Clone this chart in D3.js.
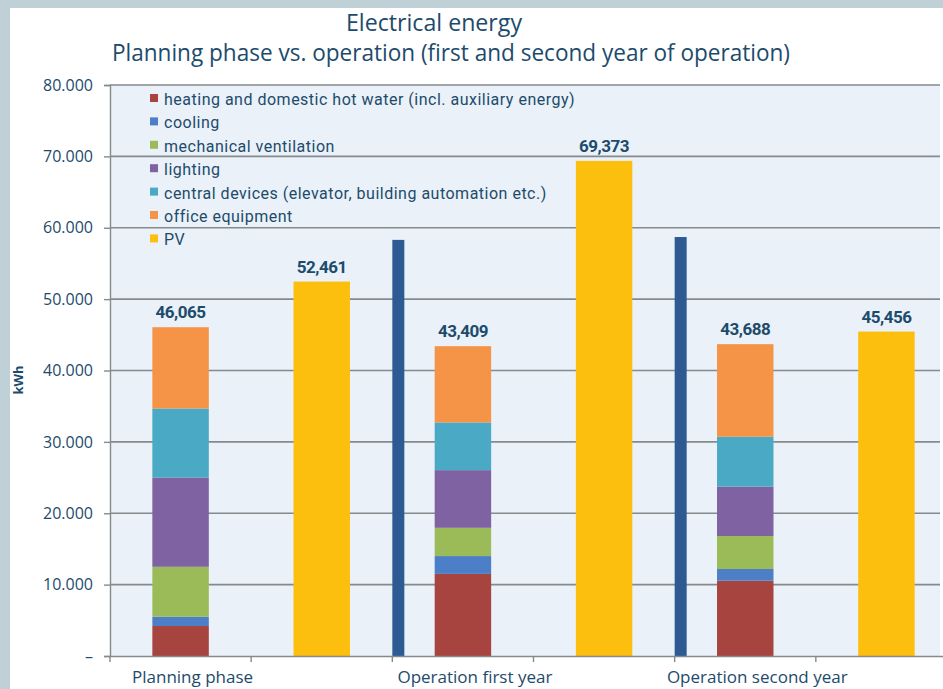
<!DOCTYPE html>
<html>
<head>
<meta charset="utf-8">
<script src="https://cdn.jsdelivr.net/npm/d3@7"></script>
<style>
  body { margin: 0; background: #ffffff; }
  svg { display: block; }
</style>
</head>
<body>
<svg width="943" height="689"></svg>
<script>
// columns on the x axis (two per phase: consumption stack and PV yield)
const bands = ["Planning phase", "Planning PV", "Operation first year", "First year PV", "Operation second year", "Second year PV"];
const bandLabels = ["Planning phase", "", "Operation first year", "", "Operation second year", ""];

// stacked consumption, kWh
const stackBands = ["Planning phase", "Operation first year", "Operation second year"];
const heating     = [4200, 11500, 10550];
const cooling     = [1300, 2500, 1640];
const ventilation = [7000, 3960, 4620];
const lighting    = [12500, 8080, 6910];
const central     = [9670, 6680, 7000];
const office      = [11395, 10689, 12968];
const totals      = [46065, 43409, 43688];

// PV yield, kWh
const pvBands = ["Planning PV", "First year PV", "Second year PV"];
const pv = [52461, 69373, 45456];

// dark separators between the phases
const sepBands = ["Operation first year", "Operation second year"];
const separators = [58300, 58700];

const yTicks = [0, 10000, 20000, 30000, 40000, 50000, 60000, 70000, 80000];

const seriesNames = [
  "heating and domestic hot water (incl. auxiliary energy)",
  "cooling",
  "mechanical ventilation",
  "lighting",
  "central devices (elevator, building automation etc.)",
  "office equipment",
  "PV"
];
const colors = ["#a8443f", "#4d7fc8", "#9bbb59", "#7f62a1", "#4aaac6", "#f59447", "#fdbf0e"];

const svg = d3.select("svg");
const textColor = "#1d4b6c";

// frame strips
svg.append("rect").attr("x", 0).attr("y", 0).attr("width", 943).attr("height", 8).attr("fill", "#bfd1d7");
svg.append("rect").attr("x", 0).attr("y", 0).attr("width", 10).attr("height", 689).attr("fill", "#bfd1d7");

const area = { left: 110, right: 940, top: 85, bottom: 656 };

const scX = d3.scaleBand().domain(bands).range([area.left, 957]);
const scY = d3.scaleLinear().domain([0, 80000]).range([area.bottom, area.top]);
const barW = scX.bandwidth() * 0.4;

// plot background
svg.append("rect")
  .attr("x", area.left).attr("y", area.top)
  .attr("width", area.right - area.left).attr("height", area.bottom - area.top)
  .attr("fill", "#eaf1f8");

// title
svg.append("text").attr("x", 346).attr("y", 31)
  .attr("textLength", 176).attr("lengthAdjust", "spacingAndGlyphs")
  .style("font-family", "Open Sans").style("font-size", "23px").attr("fill", textColor)
  .text("Electrical energy");
svg.append("text").attr("x", 112).attr("y", 61)
  .attr("textLength", 678).attr("lengthAdjust", "spacingAndGlyphs")
  .style("font-family", "Open Sans").style("font-size", "23px").attr("fill", textColor)
  .text("Planning phase vs. operation (first and second year of operation)");

// gridlines
svg.append("g")
  .selectAll("line")
  .data(yTicks.filter(d => d > 0))
  .join("line")
  .attr("x1", area.left).attr("x2", area.right)
  .attr("y1", d => scY(d)).attr("y2", d => scY(d))
  .attr("stroke", "#858a8c").attr("stroke-width", 1.6);

// y axis
const axisY = d3.axisLeft(scY)
  .tickValues(yTicks)
  .tickSize(6)
  .tickFormat(d => d === 0 ? "–" : d3.format(",")(d).replace(/,/g, "."));
const gy = svg.append("g").attr("transform", `translate(${area.left},0)`).call(axisY);
gy.select(".domain").attr("stroke", "#858a8c").attr("stroke-width", 1.4);
gy.selectAll(".tick line").attr("stroke", "#858a8c").attr("stroke-width", 1.4);
gy.selectAll(".tick text")
  .attr("x", -17)
  .style("font-family", "Open Sans").style("font-size", "16px").attr("fill", textColor);

// y axis title
svg.append("text")
  .attr("transform", "translate(23,380) rotate(-90)")
  .attr("text-anchor", "middle")
  .style("font-family", "Open Sans").style("font-size", "13px").style("font-weight", "bold")
  .attr("fill", textColor)
  .text("kWh");

// stacked bars
const stackRows = stackBands.map((b, i) => ({
  band: b,
  s0: heating[i], s1: cooling[i], s2: ventilation[i], s3: lighting[i], s4: central[i], s5: office[i]
}));
const stack = d3.stack().keys(["s0", "s1", "s2", "s3", "s4", "s5"])(stackRows);

svg.append("g")
  .selectAll("g")
  .data(stack)
  .join("g")
  .attr("fill", (d, i) => colors[i])
  .selectAll("rect")
  .data(d => d)
  .join("rect")
  .attr("x", d => scX(d.data.band) + (scX.bandwidth() - barW) / 2)
  .attr("width", barW)
  .attr("y", d => scY(d[1]))
  .attr("height", d => scY(d[0]) - scY(d[1]));

// PV bars
svg.append("g")
  .selectAll("rect")
  .data(pv)
  .join("rect")
  .attr("x", (d, i) => scX(pvBands[i]) + (scX.bandwidth() - barW) / 2)
  .attr("width", barW)
  .attr("y", d => scY(d))
  .attr("height", d => scY(0) - scY(d))
  .attr("fill", colors[6]);

// separators
svg.append("g")
  .selectAll("rect")
  .data(separators)
  .join("rect")
  .attr("x", (d, i) => scX(sepBands[i]))
  .attr("width", 12)
  .attr("y", d => scY(d))
  .attr("height", d => scY(0) - scY(d))
  .attr("fill", "#2e5a93");

// value labels
const fmt = d3.format(",");
const labels = stackBands.map((b, i) => ({ band: b, v: totals[i] }))
  .concat(pvBands.map((b, i) => ({ band: b, v: pv[i] })));
svg.append("g")
  .selectAll("text")
  .data(labels)
  .join("text")
  .attr("x", d => scX(d.band) + scX.bandwidth() / 2)
  .attr("y", d => scY(d.v) - 9)
  .attr("text-anchor", "middle")
  .style("font-family", "Roboto").style("font-size", "17px").style("font-weight", "bold")
  .style("letter-spacing", "-0.5px")
  .attr("fill", textColor)
  .text(d => fmt(d.v));

// x axis
const axisX = d3.axisBottom(scX).tickSize(0).tickFormat("");
const gx = svg.append("g").attr("transform", `translate(0,${area.bottom})`).call(axisX);
gx.select(".domain").attr("stroke", "#858a8c").attr("stroke-width", 1.6);
gx.selectAll(".tick").remove();
// tick marks at band boundaries
svg.append("g")
  .selectAll("line")
  .data(bands)
  .join("line")
  .attr("x1", d => scX(d)).attr("x2", d => scX(d))
  .attr("y1", area.bottom).attr("y2", area.bottom + 6)
  .attr("stroke", "#858a8c").attr("stroke-width", 1.4);

svg.append("g")
  .selectAll("text")
  .data(bands)
  .join("text")
  .attr("x", d => scX(d) + scX.bandwidth() / 2 + 12)
  .attr("y", 683)
  .attr("text-anchor", "middle")
  .style("font-family", "Open Sans").style("font-size", "17px")
  .attr("fill", textColor)
  .text((d, i) => bandLabels[i]);

// legend
const legend = svg.append("g")
  .selectAll("g")
  .data(seriesNames)
  .join("g")
  .attr("transform", (d, i) => `translate(150,${100 + i * 23.4})`);
legend.append("rect")
  .attr("x", 0).attr("y", -6).attr("width", 8).attr("height", 8)
  .attr("fill", (d, i) => colors[i]);
legend.append("text")
  .attr("x", 14).attr("y", 5)
  .style("font-family", "Roboto").style("font-size", "16px")
  .style("letter-spacing", "0.5px")
  .attr("fill", textColor)
  .text(d => d);
</script>
</body>
</html>
